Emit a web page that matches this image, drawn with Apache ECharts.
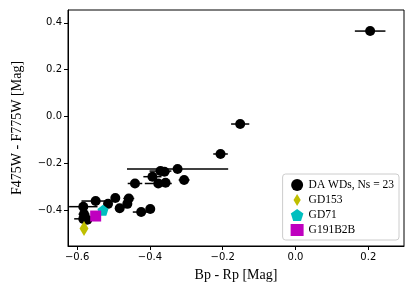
<!DOCTYPE html>
<html><head><meta charset="utf-8">
<script src="https://cdn.jsdelivr.net/npm/echarts@6/dist/echarts.min.js"></script>
<style>html,body{margin:0;padding:0;background:#fff}#c{width:415px;height:291px}</style>
</head><body><div id="c"></div>
<script>
const daX = [0.205,-0.152,-0.206,-0.371,-0.360,-0.324,-0.393,-0.441,-0.377,-0.357,-0.306,-0.495,-0.458,-0.549,-0.515,-0.462,-0.583,-0.483,-0.399,-0.424,-0.581,-0.583,-0.572];
const daY = [0.365,-0.032,-0.160,-0.233,-0.236,-0.224,-0.257,-0.286,-0.286,-0.283,-0.271,-0.348,-0.350,-0.361,-0.373,-0.373,-0.385,-0.392,-0.395,-0.408,-0.417,-0.437,-0.441];
const daXerr = [0.042,0.025,0.020,0.030,0.015,0.139,0.025,0.020,0.037,0.012,0.015,0.010,0.015,0.039,0.010,0.012,0.039,0.010,0.010,0.023,0.015,0.025,0.015];
const gd153 = [[-0.581,-0.478]];
const gd71 = [[-0.529,-0.400]];
const g191 = [[-0.549,-0.425]];
const xTicks = [-0.6,-0.4,-0.2,0.0,0.2];
const yTicks = [-0.4,-0.2,0.0,0.2,0.4];

const daData = daX.map((x,i)=>[x,daY[i],daXerr[i]]);
const fmt = v => { const s = Math.abs(v).toFixed(1); return (v < -1e-9 ? '\u2212' : '') + s; };
const diamond = 'path://M0,-1 L0.6,0 L0,1 L-0.6,0 Z';
const pentagon = 'path://M0,-1 L0.951,-0.309 L0.588,0.809 L-0.588,0.809 L-0.951,-0.309 Z';

const chart = echarts.init(document.getElementById('c'));
chart.setOption({
  animation:false,
  grid:{left:68,right:11,top:10,bottom:45,show:true,borderColor:'#000',borderWidth:1,backgroundColor:'transparent'},
  xAxis:{type:'value',min:-0.625,max:0.298,
    name:'Bp - Rp [Mag]',nameLocation:'middle',nameGap:22,
    nameTextStyle:{fontFamily:'Liberation Serif',fontSize:14,color:'#000'},
    axisLine:{show:true,onZero:false,lineStyle:{color:'#000'}},
    axisTick:{show:true,length:4,lineStyle:{color:'#000'},customValues:xTicks},
    axisLabel:{color:'#000',fontFamily:'DejaVu Sans',fontSize:10,margin:6,customValues:xTicks,formatter:fmt},
    splitLine:{show:false}},
  yAxis:{type:'value',min:-0.553,max:0.455,
    name:'F475W - F775W [Mag]',nameLocation:'middle',nameGap:44,
    nameTextStyle:{fontFamily:'Liberation Serif',fontSize:14,color:'#000'},
    axisLine:{show:true,onZero:false,lineStyle:{color:'#000'}},
    axisTick:{show:true,length:4,lineStyle:{color:'#000'},customValues:yTicks},
    axisLabel:{color:'#000',fontFamily:'DejaVu Sans',fontSize:10,margin:6,customValues:yTicks,formatter:fmt},
    splitLine:{show:false}},
  legend:{right:16,bottom:51,orient:'vertical',itemGap:3,itemWidth:13,itemHeight:12,
    backgroundColor:'#fff',borderColor:'#ccc',borderWidth:1,borderRadius:3,padding:[5,5,4,8],
    textStyle:{fontFamily:'Liberation Serif',fontSize:11.5,color:'#000'},
    data:[{name:'DA WDs, Ns = 23',icon:'circle'},{name:'GD153',icon:diamond},{name:'GD71',icon:pentagon},{name:'G191B2B',icon:'rect'}]},
  series:[
    {type:'custom',name:'err',silent:true,data:daData,z:1,
      renderItem:(params,api)=>{
        const x=api.value(0),y=api.value(1),e=api.value(2);
        const p1=api.coord([x-e,y]),p2=api.coord([x+e,y]);
        return {type:'line',shape:{x1:p1[0],y1:p1[1],x2:p2[0],y2:p2[1]},style:{stroke:'#000',lineWidth:1.5}};
      },encode:{x:0,y:1}},
    {type:'scatter',name:'DA WDs, Ns = 23',data:daData.map(d=>[d[0],d[1]]),symbol:'circle',symbolSize:10,itemStyle:{color:'#000',opacity:1},z:3},
    {type:'scatter',name:'GD153',data:gd153,symbol:diamond,symbolSize:[9,15],itemStyle:{color:'#bfbf00',opacity:1},z:4},
    {type:'scatter',name:'GD71',data:gd71,symbol:pentagon,symbolSize:11,itemStyle:{color:'#00bfbf',opacity:1},z:4},
    {type:'scatter',name:'G191B2B',data:g191,symbol:'rect',symbolSize:11,itemStyle:{color:'#bf00bf',opacity:1},z:4}
  ]
});
</script></body></html>
